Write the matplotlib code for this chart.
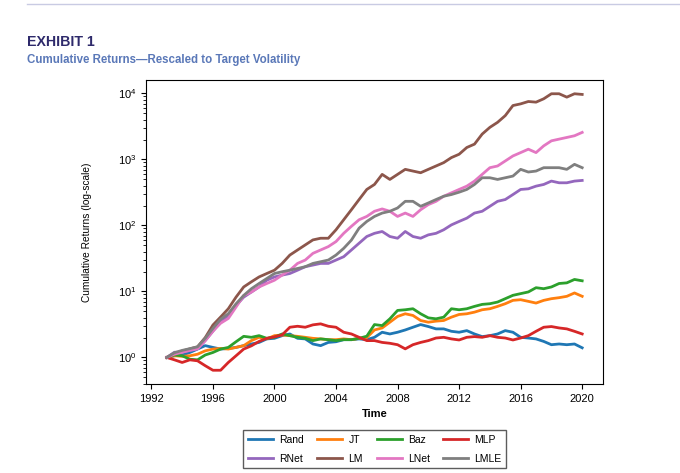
import numpy as np
import matplotlib
matplotlib.use("Agg")
import matplotlib.pyplot as plt
from matplotlib.lines import Line2D

# half-yearly readings (cumulative return, log scale), 1993.0 .. 2020.0
t = np.arange(1993.0, 2020.01, 0.5)

rand = [1.0, 1.06, 1.09, 1.19, 1.34, 1.51, 1.42, 1.34, 1.37, 1.42, 1.51, 1.60, 1.69, 1.91,
        1.95, 2.14, 2.27, 1.95, 1.91, 1.60, 1.51, 1.69, 1.73, 1.86, 1.86, 1.91, 1.86,
        2.02, 2.41, 2.27, 2.41, 2.61, 2.87, 3.15, 2.94, 2.71, 2.71, 2.49, 2.41, 2.55, 2.27,
        2.07, 2.14, 2.27, 2.55, 2.41, 2.02, 1.97, 1.91, 1.75, 1.56, 1.60, 1.56, 1.60, 1.40]
jt = [1.0, 1.06, 1.04, 1.06, 1.12, 1.26, 1.34, 1.37, 1.34, 1.42, 1.51, 1.80, 2.02, 1.91,
      2.14, 2.19, 2.14, 2.09, 2.02, 1.95, 1.91, 1.86, 1.86, 1.91, 1.86, 1.95, 2.00,
      2.61, 2.80, 3.42, 4.18, 4.59, 4.33, 3.63, 3.42, 3.55, 3.63, 4.08, 4.48, 4.59, 4.86,
      5.28, 5.47, 5.94, 6.52, 7.33, 7.50, 7.08, 6.67, 7.33, 7.77, 8.05, 8.44, 9.49, 8.44]
baz = [1.0, 1.09, 1.06, 0.94, 0.92, 1.09, 1.19, 1.34, 1.42, 1.73, 2.09, 2.02, 2.14, 1.95,
       2.02, 2.27, 2.14, 2.02, 1.95, 1.80, 1.91, 1.86, 1.80, 1.86, 1.86, 1.95, 2.10,
       3.15, 3.04, 3.85, 5.16, 5.28, 5.47, 4.59, 3.98, 3.85, 4.08, 5.47, 5.28, 5.47, 5.94,
       6.37, 6.52, 6.91, 7.77, 8.74, 9.27, 9.83, 11.4, 11.0, 11.7, 13.2, 13.5, 15.2, 14.5]
mlp = [1.0, 0.92, 0.84, 0.92, 0.89, 0.75, 0.64, 0.64, 0.84, 1.06, 1.34, 1.50, 1.75, 1.95,
       2.05, 2.20, 2.87, 2.97, 2.87, 3.12, 3.23, 2.97, 2.87, 2.41, 2.27, 2.02, 1.80,
       1.80, 1.69, 1.64, 1.56, 1.35, 1.56, 1.69, 1.80, 1.97, 2.02, 1.91, 1.84, 2.02, 2.07,
       2.02, 2.14, 2.02, 1.97, 1.84, 1.97, 2.14, 2.49, 2.87, 2.94, 2.80, 2.71, 2.49, 2.27]
rnet = [1.0, 1.2, 1.2, 1.28, 1.35, 1.8, 2.5, 3.5, 4.3, 6.1, 8.2, 9.8, 11.7, 14.8,
        16.6, 17.7, 18.7, 21.0, 23.7, 25.1, 26.6, 26.6, 29.9, 33.6, 42.5, 53.8, 68,
        76, 81, 68, 64, 81, 68, 64, 72, 76, 86, 102, 115, 129, 154,
        164, 195, 232, 247, 294, 351, 359, 394, 418, 470, 443, 443, 470, 481]
lm = [1.0, 1.15, 1.25, 1.35, 1.45, 2.0, 3.1, 4.1, 5.47, 8.2, 11.7, 14.0, 16.6, 18.7,
      21.0, 26.6, 35.6, 42.5, 50.7, 60.4, 64, 64, 86, 122, 173, 247, 351,
      418, 594, 498, 594, 708, 667, 629, 708, 796, 895, 1067, 1199, 1517, 1706,
      2423, 3064, 3650, 4613, 6560, 6950, 7550, 7380, 8300, 9890, 9890, 8790, 9890, 9660]
lnet = [1.0, 1.12, 1.2, 1.28, 1.35, 1.8, 2.5, 3.3, 3.9, 5.8, 8.7, 9.8, 11.7, 13.2,
        14.8, 17.7, 21.0, 26.6, 29.9, 37.8, 42.5, 47.8, 57, 76, 97, 122, 137,
        164, 178, 164, 137, 154, 137, 173, 207, 232, 277, 312, 351, 394, 470,
        594, 750, 796, 948, 1130, 1270, 1430, 1270, 1607, 1915, 2032, 2154, 2285, 2570]
lmle = [1.0, 1.18, 1.28, 1.36, 1.45, 1.95, 2.75, 3.8, 4.6, 6.5, 8.7, 11.0, 13.2, 15.7,
        18.7, 19.9, 21.0, 22.3, 23.7, 26.6, 28.2, 29.9, 35.6, 45, 60, 91, 115,
        137, 154, 164, 184, 232, 232, 195, 219, 247, 277, 294, 319, 351, 418,
        528, 528, 498, 528, 560, 708, 645, 667, 750, 750, 750, 708, 843, 750]

names = ["Rand", "JT", "Baz", "MLP", "RNet", "LM", "LNet", "LMLE"]
series = [rand, jt, baz, mlp, rnet, lm, lnet, lmle]
colors = ["tab:blue", "tab:orange", "tab:green", "tab:red",
          "tab:purple", "tab:brown", "tab:pink", "tab:gray"]

plt.rcParams['font.family'] = ['Liberation Sans', 'DejaVu Sans']

fig = plt.figure(figsize=(6.8, 4.73), dpi=100)
ax = fig.add_axes([0.2147, 0.188, 0.672, 0.643])

for name, vals, c in zip(names, series, colors):
    ax.plot(t, vals, color=c, lw=2, label=name)

ax.set_yscale('log')
ax.set_xticks([1992, 1996, 2000, 2004, 2008, 2012, 2016, 2020])
ax.tick_params(labelsize=8)
ax.set_xlabel("Time", fontsize=8, fontweight='bold')
ax.set_ylabel("Cumulative Returns (log-scale)", fontsize=7.3)
ax.yaxis.set_label_coords(-0.118, 0.5)

# legend laid out row by row, centred under the axes
order = [0, 4, 1, 5, 2, 6, 3, 7]
handles = [Line2D([], [], color=colors[i], lw=2) for i in order]
labels = [names[i] for i in order]
fig.legend(handles, labels, loc='upper center', bbox_to_anchor=(0.551, 0.102),
           ncol=4, fontsize=7.5, frameon=True, fancybox=False, edgecolor='#333333',
           handlelength=2.4, handletextpad=0.6, columnspacing=1.3,
           borderpad=0.45, labelspacing=0.85)

fig.text(0.04, 0.912, "EXHIBIT 1", fontsize=10.2, fontweight='bold', color='#2e2a6b',
         va='center')
fig.text(0.04, 0.873, "Cumulative Returns\u2014Rescaled to Target Volatility", fontsize=8.3,
         fontweight='bold', color='#5a78b8', va='center')
fig.add_artist(Line2D([0.04, 1.0], [0.992, 0.992], color='#c9cbe3', lw=1))

fig.savefig("out.png", dpi=100)
